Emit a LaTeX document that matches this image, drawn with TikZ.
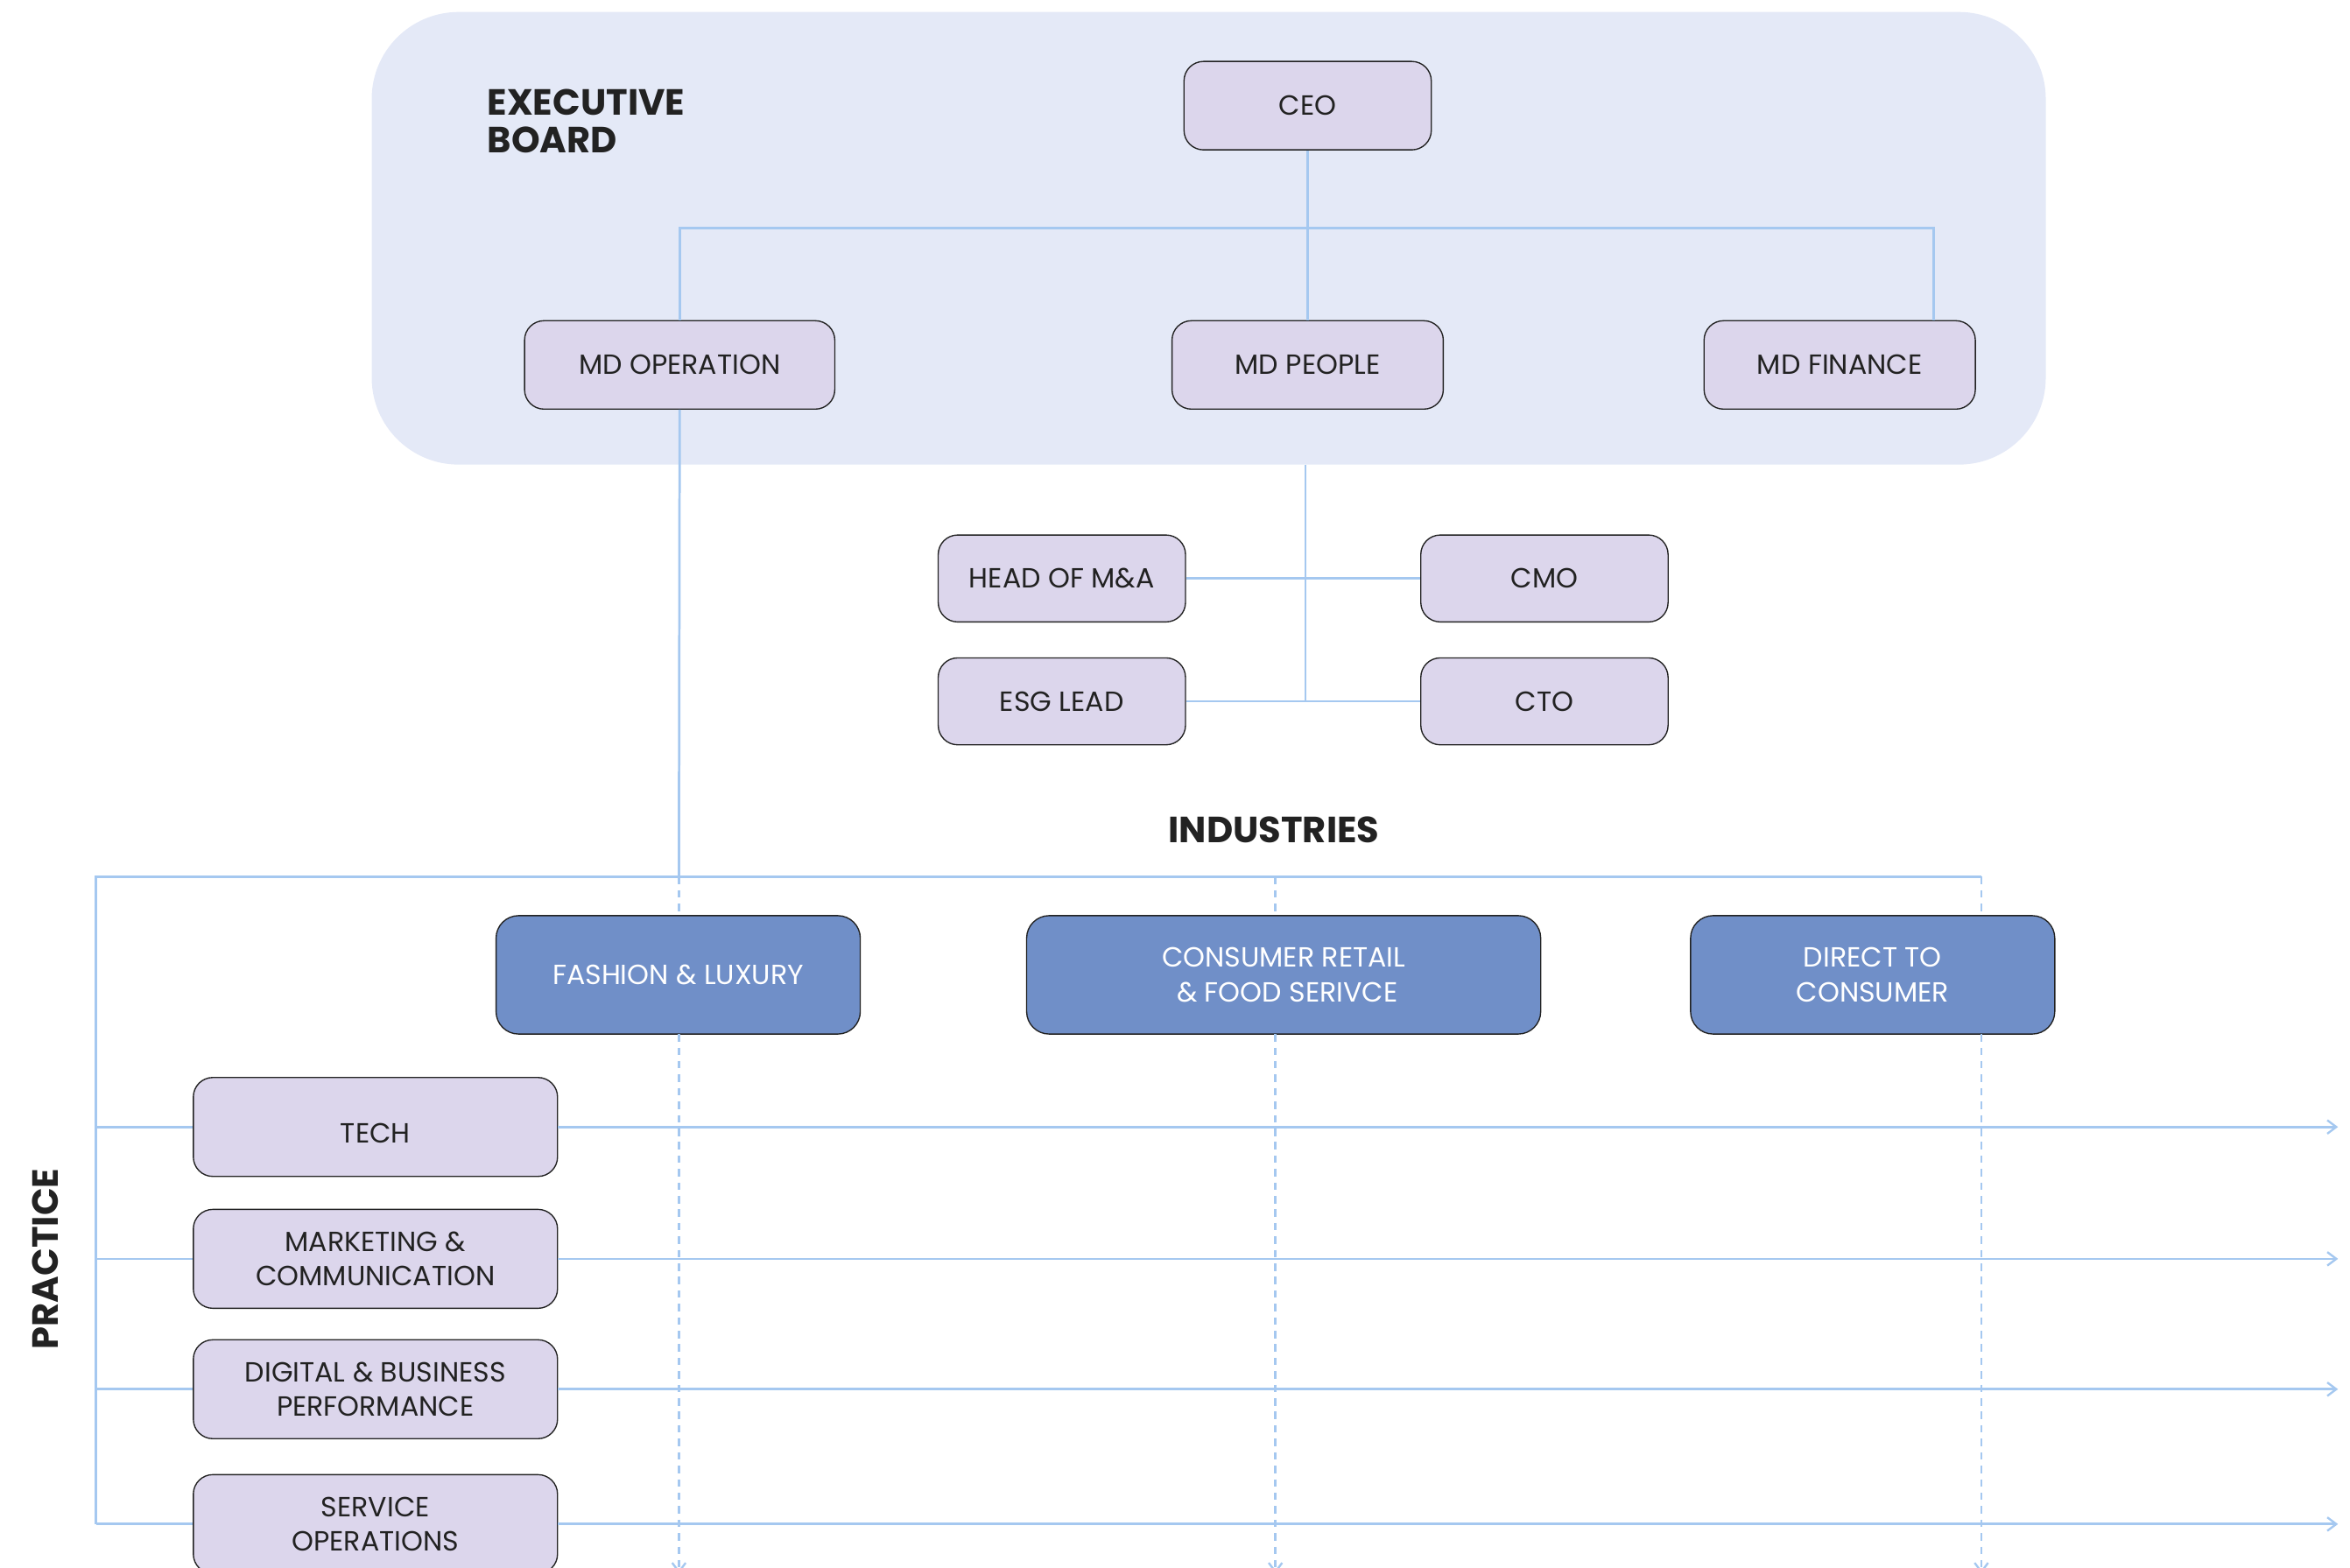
\documentclass[tikz,border=0pt]{standalone}
\usepackage{fontspec}
\setmainfont{Poppins}
\usetikzlibrary{arrows.meta}
\definecolor{boardbg}{HTML}{E4E9F7}
\definecolor{rolefill}{HTML}{DCD6EC}
\definecolor{indfill}{HTML}{708FC8}
\definecolor{connc}{HTML}{A5C8F0}
\definecolor{txt}{HTML}{222222}
\tikzset{
  role/.style={draw=txt, line width=0.8pt, fill=rolefill, rounded corners=13pt,
    inner sep=0pt, align=center, text=txt, font=\fontsize{18.5}{23}\selectfont},
  indbox/.style={draw=txt, line width=0.8pt, fill=indfill, rounded corners=15pt,
    inner sep=0pt, align=center, text=white, font=\fontsize{18.5}{23}\selectfont,
    minimum height=79pt},
  pract/.style={role, minimum width=243pt, minimum height=66pt},
  conn/.style={draw=connc, line width=1.6pt},
  dconn/.style={conn, dash pattern=on 5pt off 4pt},
  arr/.style={-{Straight Barb[length=6pt,width=9pt,line width=1.4pt]}},
  head/.style={font=\fontsize{24.3}{25}\selectfont\bfseries, text=txt, inner sep=0pt}
}
\begin{document}
\begin{tikzpicture}[x=1pt,y=-1pt]
\useasboundingbox (0,0) rectangle (1568,1046);
\clip (0,0) rectangle (1568,1046);
% board
\fill[boardbg, rounded corners=58pt] (248,8) rectangle (1365,310);
\node[head, anchor=north west, align=left] (board) at (325,59.5) {EXECUTIVE\\BOARD};

% executive nodes
\node[role, minimum width=165pt, minimum height=59pt] (ceo) at (872.5,70.5) {CEO};
\node[role, minimum width=207pt, minimum height=59pt] (mdop) at (453.5,243.5) {MD OPERATION};
\node[role, minimum width=181pt, minimum height=59pt] (mdpeople) at (872.5,243.5) {MD PEOPLE};
\node[role, minimum width=181pt, minimum height=59pt] (mdfin) at (1227.5,243.5) {MD FINANCE};

\coordinate (bus) at (872.5,152);
\coordinate (fintop) at (1290,214);
\draw[conn] (ceo.south) -- (bus);
\draw[conn] (mdop.north) |- (bus) -| (fintop);
\draw[conn] (bus) -- (mdpeople.north);

% staff
\node[role, minimum width=165pt, minimum height=58pt] (hma) at (708.5,386) {HEAD OF M\&A};
\node[role, minimum width=165pt, minimum height=58pt] (cmo) at (1030.5,386) {CMO};
\node[role, minimum width=165pt, minimum height=58pt] (esg) at (708.5,468) {ESG LEAD};
\node[role, minimum width=165pt, minimum height=58pt] (cto) at (1030.5,468) {CTO};
\coordinate (bb) at (871,310);
\coordinate (bend) at (871,468);
\draw[conn] (bb) -- (bend);
\draw[conn] (hma.east) -- (cmo.west);
\draw[conn] (esg.east) -- (cto.west);

% industries
\node[head] (industries) at (850,554) {INDUSTRIES};
\node[indbox, minimum width=243pt] (fashion) at (452.5,650.5) {FASHION \& LUXURY};
\node[indbox, minimum width=343pt] (consumer) at (856.5,650.5) {CONSUMER RETAIL\\\ \& FOOD SERIVCE};
\node[indbox, minimum width=243pt] (direct) at (1249.5,650.5) {DIRECT TO\\CONSUMER};

\coordinate (indl) at (64,585);
\coordinate (ind1) at (453,585);
\coordinate (ind2) at (851,585);
\coordinate (ind3) at (1322,585);
\coordinate (pbot) at (64,1017);
\draw[conn] (mdop.south) -- (ind1);
\draw[conn] (ind3) -- (indl) -- (pbot);

% practice
\node[head, rotate=90] (practice) at (30,840) {PRACTICE};
\node[pract, text height=21pt, text depth=0pt] (tech) at (250.5,752) {TECH};
\node[pract] (mark) at (250.5,840) {MARKETING \&\\COMMUNICATION};
\node[pract] (dig) at (250.5,927) {DIGITAL \& BUSINESS\\PERFORMANCE};
\node[pract] (serv) at (250.5,1017) {SERVICE\\OPERATIONS};

\foreach \n/\y in {tech/752, mark/840, dig/927, serv/1017}{
  \coordinate (l\n) at (64,\y);
  \coordinate (r\n) at (1560,\y);
  \draw[conn] (l\n) -- (\n.west);
  \draw[conn, arr] (\n.east) -- (r\n);
}

% dashed industry lines
\coordinate (d1a) at (453,611); \coordinate (d1b) at (453,690); \coordinate (d1e) at (453,1050);
\coordinate (d2a) at (851,611); \coordinate (d2b) at (851,690); \coordinate (d2e) at (851,1050);
\coordinate (d3a) at (1322,611); \coordinate (d3b) at (1322,690); \coordinate (d3e) at (1322,1050);
\draw[dconn] (ind1) -- (d1a);
\draw[dconn] (ind2) -- (d2a);
\draw[dconn] (ind3) -- (d3a);
\draw[dconn, arr] (d1b) -- (d1e);
\draw[dconn, arr] (d2b) -- (d2e);
\draw[dconn, arr] (d3b) -- (d3e);
\end{tikzpicture}
\end{document}
